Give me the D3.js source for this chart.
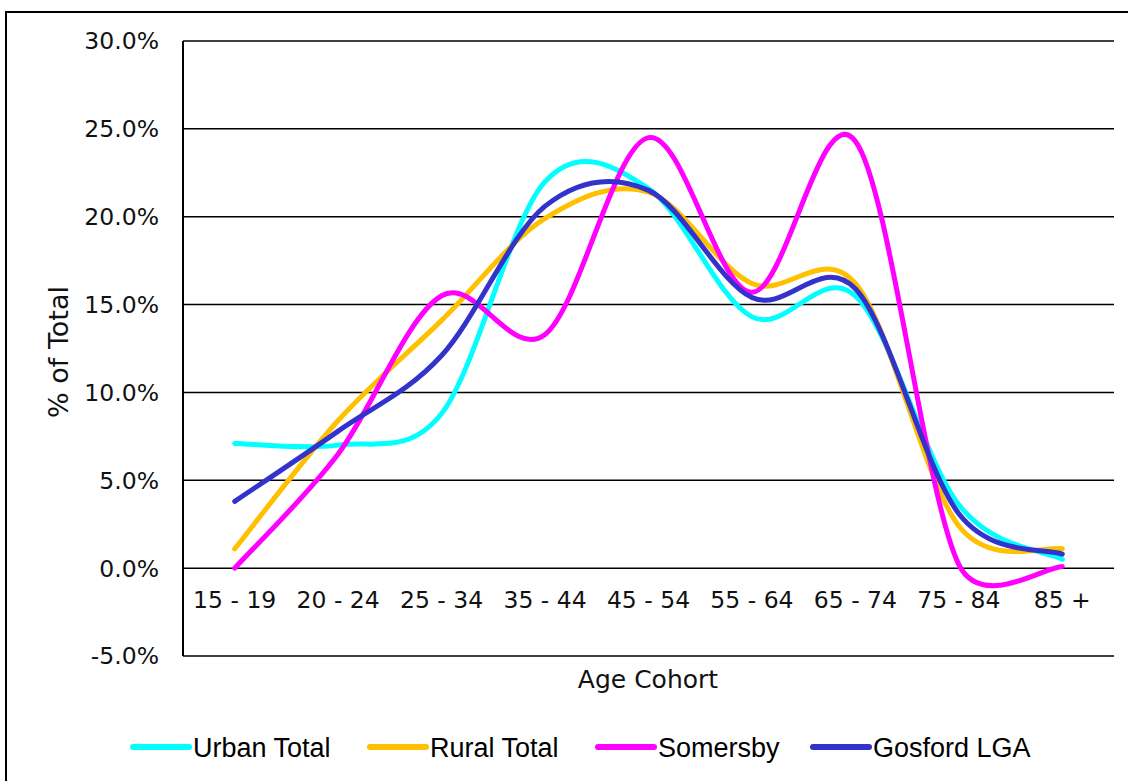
<!DOCTYPE html>
<html>
<head>
<meta charset="utf-8">
<script src="https://cdn.jsdelivr.net/npm/d3@7"></script>
<style>
  html, body { margin: 0; padding: 0; background: #fff; }
  svg { display: block; }
</style>
</head>
<body>
<svg id="chart" width="1128" height="781"></svg>
<script>
// Age cohorts along the x axis
const categories = ["15 - 19", "20 - 24", "25 - 34", "35 - 44", "45 - 54", "55 - 64", "65 - 74", "75 - 84", "85 +"];

// Share of total population (%) per cohort
const urbanTotal = [7.1, 7.0, 8.8, 22.0, 21.6, 14.3, 15.5, 3.6, 0.5];
const ruralTotal = [1.1, 8.4, 14.1, 19.9, 21.4, 16.2, 16.2, 2.4, 1.1];
const somersby   = [0.0, 6.5, 15.5, 13.3, 24.5, 15.7, 24.3, 0.2, 0.1];
const gosfordLGA = [3.8, 7.8, 12.1, 20.6, 21.5, 15.4, 15.9, 3.1, 0.8];

const seriesNames = ["Urban Total", "Rural Total", "Somersby", "Gosford LGA"];
const seriesValues = [urbanTotal, ruralTotal, somersby, gosfordLGA];
const seriesColors = ["#00FFFF", "#FFC000", "#FF00FF", "#3333CC"];

// Y axis ticks (%)
const yTicks = [-5, 0, 5, 10, 15, 20, 25, 30];

const svg = d3.select("#chart");
const axisFont = "'DejaVu Sans', Verdana, sans-serif";
const legendFont = "'Liberation Sans', Arial, sans-serif";

const plot = { left: 183, right: 1114, top: 41, bottom: 656 };

const x = d3.scaleBand().domain(categories).range([plot.left, plot.right]);
const y = d3.scaleLinear().domain([-5, 30]).range([plot.bottom, plot.top]);
const cx = c => x(c) + x.bandwidth() / 2;

// Outer chart frame
svg.append("rect")
  .attr("x", 6).attr("y", 12)
  .attr("width", 1200).attr("height", 900)
  .attr("fill", "#fff").attr("stroke", "#000").attr("stroke-width", 2);

// Horizontal gridlines
svg.append("g").selectAll("line").data(yTicks).join("line")
  .attr("x1", plot.left).attr("x2", plot.right)
  .attr("y1", d => y(d)).attr("y2", d => y(d))
  .attr("stroke", "#000").attr("stroke-width", 1.5);

// Vertical value axis line
svg.append("line")
  .attr("x1", plot.left).attr("x2", plot.left)
  .attr("y1", plot.top).attr("y2", plot.bottom)
  .attr("stroke", "#000").attr("stroke-width", 2);

// Y tick labels
svg.append("g").selectAll("text").data(yTicks).join("text")
  .attr("x", 159).attr("y", d => y(d))
  .attr("dy", "0.36em")
  .attr("text-anchor", "end")
  .attr("font-family", axisFont).attr("font-size", 23.5)
  .attr("fill", "#111")
  .text(d => d.toFixed(1) + "%");

// Category labels
svg.append("g").selectAll("text").data(categories).join("text")
  .attr("x", d => cx(d)).attr("y", 600)
  .attr("dy", "0.36em")
  .attr("text-anchor", "middle")
  .attr("font-family", axisFont).attr("font-size", 23.5)
  .attr("fill", "#111")
  .text(d => d);

// Axis titles
svg.append("text")
  .attr("x", 648).attr("y", 679).attr("dy", "0.36em")
  .attr("text-anchor", "middle")
  .attr("font-family", axisFont).attr("font-size", 25)
  .attr("fill", "#111")
  .text("Age Cohort");

svg.append("text")
  .attr("transform", "translate(58,352) rotate(-90)")
  .attr("dy", "0.36em")
  .attr("text-anchor", "middle")
  .attr("font-family", axisFont).attr("font-size", 27)
  .attr("fill", "#111")
  .text("% of Total");

// Spreadsheet-style smoothing: cubic Bezier through every point with
// Catmull-Rom tangents, tangent length capped at half the segment.
function curveSpreadsheetSmooth(context) {
  let pts = [];
  return {
    areaStart() {}, areaEnd() {},
    lineStart() { pts = []; },
    point(px, py) { pts.push([+px, +py]); },
    lineEnd() {
      const n = pts.length;
      if (!n) return;
      context.moveTo(pts[0][0], pts[0][1]);
      const dist = (a, b) => Math.hypot(b[0] - a[0], b[1] - a[1]);
      for (let i = 0; i < n - 1; i++) {
        const p0 = pts[i > 0 ? i - 1 : i];
        const p1 = pts[i];
        const p2 = pts[i + 1];
        const p3 = pts[i + 2 < n ? i + 2 : i + 1];
        const d12 = dist(p1, p2), d02 = dist(p0, p2), d13 = dist(p1, p3);
        const f0 = d02 > 0 ? Math.min(1 / 6, d12 / (2 * d02)) : 1 / 6;
        const f1 = d13 > 0 ? Math.min(1 / 6, d12 / (2 * d13)) : 1 / 6;
        const b1 = [p1[0] + (p2[0] - p0[0]) * f0, p1[1] + (p2[1] - p0[1]) * f0];
        const b2 = [p2[0] - (p3[0] - p1[0]) * f1, p2[1] - (p3[1] - p1[1]) * f1];
        context.bezierCurveTo(b1[0], b1[1], b2[0], b2[1], p2[0], p2[1]);
      }
    }
  };
}

const line = d3.line()
  .x((d, i) => cx(categories[i]))
  .y(d => y(d))
  .curve(curveSpreadsheetSmooth);

svg.append("g").selectAll("path").data(seriesValues).join("path")
  .attr("d", d => line(d))
  .attr("fill", "none")
  .attr("stroke", (d, i) => seriesColors[i])
  .attr("stroke-width", 5)
  .attr("stroke-linecap", "round")
  .attr("stroke-linejoin", "round");

// Legend
const legendX = [133, 370, 598, 813];
const legend = svg.append("g").selectAll("g").data(seriesNames).join("g")
  .attr("transform", (d, i) => `translate(${legendX[i]},747)`);
legend.append("line")
  .attr("x1", 0).attr("x2", 56).attr("y1", 0).attr("y2", 0)
  .attr("stroke", (d, i) => seriesColors[i])
  .attr("stroke-width", 6)
  .attr("stroke-linecap", "round");
legend.append("text")
  .attr("x", 60).attr("y", 0).attr("dy", "0.36em")
  .attr("font-family", legendFont).attr("font-size", 27)
  .attr("fill", "#000")
  .text(d => d);
</script>
</body>
</html>
